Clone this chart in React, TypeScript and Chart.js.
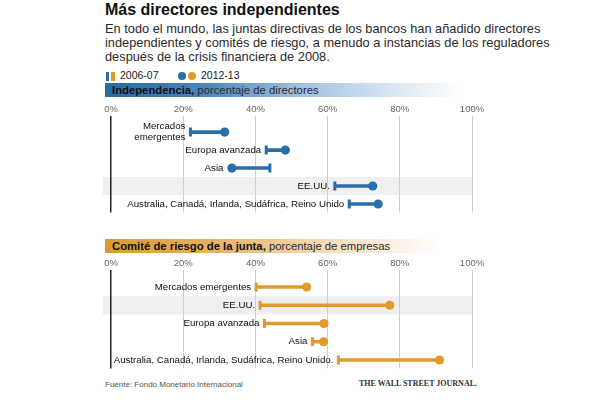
import React, { useEffect, useRef } from "react";
import { Chart, registerables } from "chart.js";

Chart.register(...registerables);

const SANS = "'Liberation Sans', Arial, sans-serif";
const SERIF = "'Liberation Serif', 'Times New Roman', serif";

const titleText = "Más directores independientes";
const subtitleLines = [
  "En todo el mundo, las juntas directivas de los bancos han añadido directores",
  "independientes y comités de riesgo, a menudo a instancias de los reguladores",
  "después de la crisis financiera de 2008.",
];
const legendLabels = ["2006-07", "2012-13"];
const sourceText = "Fuente: Fondo Monetario Internacional";
const creditText = "THE WALL STREET JOURNAL.";

const xTickValues = [0, 20, 40, 60, 80, 100];

const indepTitle = ["Independencia,", " porcentaje de directores"];
const indepLabels = [
  "Mercados\nemergentes",
  "Europa avanzada",
  "Asia",
  "EE.UU.",
  "Australia, Canadá, Irlanda, Sudáfrica, Reino Unido",
];
const indep2006 = [22, 43, 44, 62, 66];
const indep2012 = [31.5, 48.3, 33.5, 72.5, 74];

const riskTitle = ["Comité de riesgo de la junta,", " porcentaje de empresas"];
const riskLabels = [
  "Mercados emergentes",
  "EE.UU.",
  "Europa avanzada",
  "Asia",
  "Australia, Canadá, Irlanda, Sudáfrica, Reino Unido.",
];
const risk2006 = [40.2, 41.3, 42.5, 55.8, 63];
const risk2012 = [54.2, 77.2, 59, 58.9, 91];

const highlightLabel = "EE.UU.";

const BLUE = "#2a6ea8";
const ORANGE = "#e09b2c";

type PanelProps = {
  labels: string[];
  start: number[];
  end: number[];
  color: string;
  top: number;
  axisH: number;
  padBottom: number;
  yMin: number;
  yMax: number;
};

function Panel({ labels, start, end, color, top, axisH, padBottom, yMin, yMax }: PanelProps) {
  const ref = useRef<HTMLCanvasElement>(null);
  useEffect(() => {
    if (!ref.current) return;
    const rows = labels.map((_, i) => i);
    const highlightPlugin = {
      id: "rowHighlight",
      beforeDraw(chart: any) {
        const { ctx, scales } = chart;
        const x = scales.x;
        const y = scales.y;
        const i = labels.indexOf(highlightLabel);
        if (i < 0) return;
        const y0 = y.getPixelForValue(i - 0.5);
        const y1 = y.getPixelForValue(i + 0.5);
        const left = x.getPixelForValue(0) - 8;
        const right = x.getPixelForValue(100);
        ctx.save();
        ctx.fillStyle = "#efefef";
        ctx.fillRect(left, Math.min(y0, y1), right - left, Math.abs(y1 - y0));
        ctx.restore();
      },
    };
    const labelPlugin = {
      id: "rowLabels",
      afterDatasetsDraw(chart: any) {
        const { ctx, scales } = chart;
        const x = scales.x;
        const y = scales.y;
        ctx.save();
        ctx.font = `9.7px ${SANS}`;
        ctx.fillStyle = "#0d0d0d";
        ctx.textAlign = "right";
        ctx.textBaseline = "middle";
        labels.forEach((lab, i) => {
          const s = start[i];
          const e = end[i];
          const gap = s <= e ? 5 : 8.5;
          const px = x.getPixelForValue(Math.min(s, e)) - gap;
          const py = y.getPixelForValue(i);
          const lines = lab.split("\n");
          lines.forEach((ln, k) => {
            ctx.fillText(ln, px, py + (k - (lines.length - 1) / 2) * 11);
          });
        });
        ctx.restore();
      },
    };
    const chart = new Chart(ref.current, {
      type: "bar",
      data: {
        datasets: [
          {
            type: "bar",
            data: rows.map((i) => ({ y: i, x: [start[i], end[i]] })),
            backgroundColor: color,
            borderWidth: 0,
            barThickness: 3,
            indexAxis: "y",
            order: 3,
          } as any,
          {
            type: "scatter",
            data: rows.map((i) => ({ x: start[i], y: i })),
            pointStyle: "line",
            rotation: 90,
            pointRadius: 4.5,
            borderColor: color,
            borderWidth: 3,
            order: 2,
          } as any,
          {
            type: "scatter",
            data: rows.map((i) => ({ x: end[i], y: i })),
            pointStyle: "circle",
            pointRadius: 4.6,
            backgroundColor: color,
            borderColor: color,
            borderWidth: 0,
            order: 1,
          } as any,
        ],
      },
      options: {
        animation: false,
        responsive: false,
        indexAxis: "y",
        events: [],
        layout: { padding: { left: 111, right: 117, top: 0, bottom: padBottom } },
        plugins: { legend: { display: false }, tooltip: { enabled: false }, title: { display: false } },
        scales: {
          x: {
            type: "linear",
            position: "top",
            min: 0,
            max: 100,
            offset: false,
            afterBuildTicks: (scale: any) => {
              scale.ticks = xTickValues.map((value) => ({ value }));
            },
            afterFit: (scale: any) => {
              scale.height = axisH;
            },
            ticks: {
              callback: (v: any) => `${v}%`,
              color: "#666",
              font: { family: SANS, size: 9.5 },
              padding: 1,
              maxRotation: 0,
              autoSkip: false,
            },
            grid: {
              drawTicks: false,
              offset: false,
              color: (ctx: any) => (ctx.tick && ctx.tick.value === 0 ? "#222" : "#cfcfcf"),
              lineWidth: (ctx: any) => (ctx.tick && ctx.tick.value === 0 ? 1.5 : 1),
            },
            border: { display: false },
          },
          y: {
            type: "linear",
            display: false,
            reverse: true,
            offset: false,
            min: yMin,
            max: yMax,
            grid: { offset: false },
          },
        },
      } as any,
      plugins: [highlightPlugin, labelPlugin],
    });
    return () => chart.destroy();
  }, []);
  return (
    <canvas
      ref={ref}
      width={589}
      height={120}
      style={{ position: "absolute", left: 0, top, width: 589, height: 120 }}
    />
  );
}

function Band({ top, parts, gradient, width }: { top: number; parts: string[]; gradient: string; width: number }) {
  return (
    <div
      style={{
        position: "absolute",
        left: 105,
        top,
        width,
        height: 14,
        background: gradient,
      }}
    >
      <div
        style={{
          position: "absolute",
          left: 7,
          top: 2.2,
          fontFamily: SANS,
          fontSize: 11.3,
          lineHeight: "11.3px",
          whiteSpace: "nowrap",
          color: "#2a2a2a",
        }}
      >
        <span style={{ fontWeight: "bold", color: "#111" }}>{parts[0]}</span>
        <span>{parts[1]}</span>
      </div>
    </div>
  );
}

export default function App() {
  return (
    <div
      style={{
        position: "fixed",
        left: 0,
        top: 0,
        width: 589,
        height: 400,
        background: "#fff",
        overflow: "hidden",
      }}
    >
      <div
        style={{
          position: "absolute",
          left: 105,
          top: 1.5,
          fontFamily: SANS,
          fontWeight: "bold",
          fontSize: 16,
          lineHeight: "16px",
          color: "#111",
          whiteSpace: "nowrap",
        }}
      >
        {titleText}
      </div>
      <div
        style={{
          position: "absolute",
          left: 105,
          top: 21.5,
          fontFamily: SANS,
          fontSize: 12.8,
          lineHeight: "14px",
          color: "#2a2a2a",
          whiteSpace: "nowrap",
        }}
      >
        {subtitleLines.map((l, i) => (
          <div key={i}>{l}</div>
        ))}
      </div>
      {/* legend */}
      <div style={{ position: "absolute", left: 106, top: 71.5, width: 3, height: 9, background: BLUE }} />
      <div style={{ position: "absolute", left: 111, top: 71.5, width: 3.5, height: 9, background: ORANGE }} />
      <div
        style={{
          position: "absolute",
          left: 120,
          top: 70.1,
          fontFamily: SANS,
          fontSize: 10.5,
          lineHeight: "10.5px",
          color: "#1a1a1a",
          whiteSpace: "nowrap",
        }}
      >
        {legendLabels[0]}
      </div>
      <div style={{ position: "absolute", left: 178.3, top: 72, width: 8, height: 8, borderRadius: 4, background: BLUE }} />
      <div style={{ position: "absolute", left: 188.3, top: 72, width: 8, height: 8, borderRadius: 4, background: ORANGE }} />
      <div
        style={{
          position: "absolute",
          left: 201,
          top: 70.1,
          fontFamily: SANS,
          fontSize: 10.5,
          lineHeight: "10.5px",
          color: "#1a1a1a",
          whiteSpace: "nowrap",
        }}
      >
        {legendLabels[1]}
      </div>

      <Band
        top={83.3}
        width={355}
        parts={indepTitle}
        gradient="linear-gradient(to right, #2a6aa5 0%, #4a85bb 28%, #9fc0e0 55%, #dbe7f3 82%, #ffffff 100%)"
      />
      <Panel
        labels={indepLabels}
        start={indep2006}
        end={indep2012}
        color={BLUE}
        top={100}
        axisH={16}
        padBottom={2}
        yMin={-0.895}
        yMax={4.474}
      />

      <Band
        top={238.5}
        width={335}
        parts={riskTitle}
        gradient="linear-gradient(to right, #dc992e 0%, #e6b062 32%, #f3d8ae 62%, #fbefe0 85%, #ffffff 100%)"
      />
      <Panel
        labels={riskLabels}
        start={risk2006}
        end={risk2012}
        color={ORANGE}
        top={256}
        axisH={14}
        padBottom={3}
        yMin={-0.93}
        yMax={4.466}
      />

      <div
        style={{
          position: "absolute",
          left: 105,
          top: 380.5,
          fontFamily: SANS,
          fontSize: 8,
          lineHeight: "8px",
          color: "#555",
          whiteSpace: "nowrap",
        }}
      >
        {sourceText}
      </div>
      <div
        style={{
          position: "absolute",
          right: 112,
          top: 380,
          fontFamily: SERIF,
          fontWeight: "bold",
          fontSize: 8,
          lineHeight: "8px",
          color: "#333",
          whiteSpace: "nowrap",
        }}
      >
        {creditText}
      </div>
    </div>
  );
}
